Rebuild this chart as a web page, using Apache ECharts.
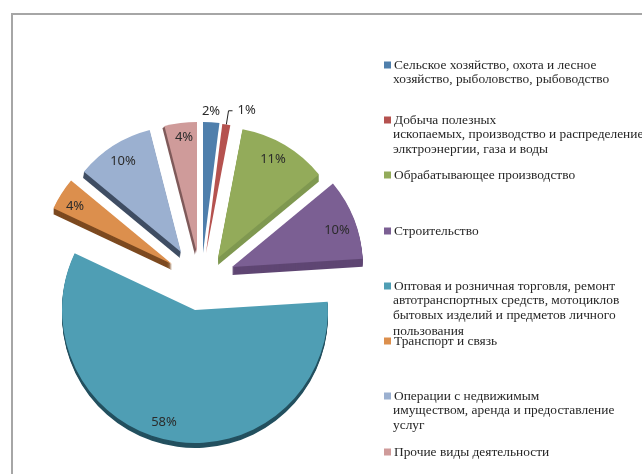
<!DOCTYPE html>
<html>
<head>
<meta charset="utf-8">
<style>
  html, body { margin: 0; padding: 0; background: #fff; }
  #chart { width: 642px; height: 474px; }
</style>
<script src="https://cdn.jsdelivr.net/npm/echarts@6/dist/echarts.min.js"></script>
</head>
<body>
<div id="chart"></div>
<script>
// values
var sectors = [
  'Сельское хозяйство, охота и лесное хозяйство, рыболовство, рыбоводство',
  'Добыча полезных ископаемых, производство и распределение элктроэнергии, газа и воды',
  'Обрабатывающее производство',
  'Строительство',
  'Оптовая и розничная торговля, ремонт автотранспортных средств, мотоциклов бытовых изделий и предметов личного пользования',
  'Транспорт и связь',
  'Операции с недвижимым имуществом, аренда и предоставление услуг',
  'Прочие виды деятельности'
];
var shares = [2, 1, 11, 10, 58, 4, 10, 4];

// wrapped legend text, same line breaks as the picture
var legendLines = [
  ['Сельское хозяйство, охота и лесное', 'хозяйство, рыболовство, рыбоводство'],
  ['Добыча полезных', 'ископаемых, производство и распределение', 'элктроэнергии, газа и воды'],
  ['Обрабатывающее производство'],
  ['Строительство'],
  ['Оптовая и розничная торговля, ремонт', 'автотранспортных средств, мотоциклов', 'бытовых изделий и предметов личного', 'пользования'],
  ['Транспорт и связь'],
  ['Операции с недвижимым', 'имуществом, аренда и предоставление', 'услуг'],
  ['Прочие виды деятельности']
];
var legendY = [64, 119, 174, 230, 285, 340, 395, 451];
var lineStep = 15.4;

// looks
var topColors = ['#4f7fac', '#b5524f', '#93ab5a', '#7b5f93', '#4f9eb4', '#dc8f4d', '#9bb0d0', '#cf9b9a'];
var wallColors = ['#2f4f70', '#7a3533', '#7f9850', '#5f4673', '#23505f', '#7d4a20', '#3f4d63', '#7f5a5a'];
var centers = [[203, 253], [206, 253], [218, 258], [232, 267], [195, 310], [172, 264], [181, 252], [197, 253]];
var radii = [131, 130, 131, 131, 133, 131, 126, 131];
var walls = [[0, 0], [0, 0], [0, 7], [0, 8], [0, 5], [0, 6], [-1, 6], [-2, 2]];
var labelAt = [[211, 111], null, [273, 159], [337, 230], [164, 422], [75, 206], [123, 161], [184, 137]];

var serifFont = '"Liberation Serif", serif';
var labelFont = '"Noto Sans", sans-serif';

// every slice is its own pie so it can be pulled out of the centre;
// the other seven shares stay in the data but are not painted
function sliceSeries(i, dx, dy, color, withLabel) {
  var pos = labelAt[i];
  return {
    type: 'pie',
    silent: true,
    animation: false,
    startAngle: 90,
    clockwise: true,
    avoidLabelOverlap: false,
    center: [centers[i][0] + dx, centers[i][1] + dy],
    radius: [0, radii[i]],
    label: {
      position: pos ? 'inside' : 'outside',
      formatter: '{c}%',
      fontFamily: labelFont,
      fontSize: 13,
      color: '#2b2b2b',
      textBorderWidth: 0,
      padding: pos ? 0 : [0, 0, 5, 0]
    },
    labelLine: { length: 14, length2: 4, smooth: false, lineStyle: { color: '#222', width: 1 } },
    labelLayout: pos ? function () {
      return { x: pos[0], y: pos[1], align: 'center', verticalAlign: 'middle' };
    } : undefined,
    data: shares.map(function (v, j) {
      var on = j === i;
      return {
        value: v,
        name: sectors[j],
        itemStyle: { color: on ? color : 'rgba(0,0,0,0)', borderWidth: 0 },
        label: { show: on && withLabel },
        labelLine: { show: on && withLabel && !pos }
      };
    })
  };
}

var series = [];
shares.forEach(function (v, i) {
  var steps = Math.max(Math.abs(walls[i][0]), Math.abs(walls[i][1]));
  for (var s = steps; s >= 1; s--) {
    series.push(sliceSeries(i, walls[i][0] * s / steps, walls[i][1] * s / steps, wallColors[i], false));
  }
  series.push(sliceSeries(i, 0, 0, topColors[i], true));
});

// one legend per entry because the rows are unevenly spaced; it carries the first line
var legends = sectors.map(function (name, i) {
  return {
    left: 384,
    top: legendY[i] - 6,
    padding: 0,
    orient: 'vertical',
    selectedMode: false,
    itemWidth: 7,
    itemHeight: 7,
    itemGap: 0,
    icon: 'rect',
    data: [{ name: name, itemStyle: { color: topColors[i] } }],
    formatter: function () { return legendLines[i][0]; },
    textStyle: { fontFamily: serifFont, fontSize: 13.4, color: '#262626', lineHeight: 14, padding: [0, 0, 0, -2] }
  };
});

// continuation lines of the wrapped entries, and the chart frame
var graphics = [{
  type: 'polyline',
  silent: true,
  shape: { points: [[12, 474], [12, 14], [642, 14]] },
  style: { stroke: '#a6a6a6', lineWidth: 2, fill: null }
}];
legendLines.forEach(function (lines, i) {
  lines.slice(1).forEach(function (line, k) {
    graphics.push({
      type: 'text',
      silent: true,
      x: 393,
      y: legendY[i] + (k + 1) * lineStep,
      style: { text: line, font: '13.4px ' + serifFont, fill: '#262626', verticalAlign: 'middle' }
    });
  });
});

var chart = echarts.init(document.getElementById('chart'));
chart.setOption({
  backgroundColor: '#fff',
  animation: false,
  legend: legends,
  graphic: graphics,
  series: series
});
</script>
</body>
</html>
